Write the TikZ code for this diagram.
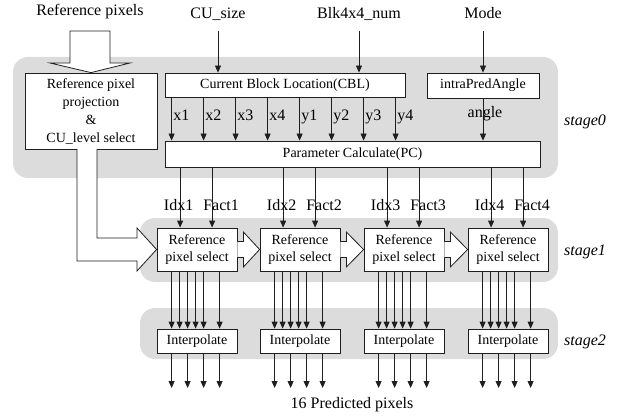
\documentclass[tikz,border=0pt]{standalone}
\usepackage{fontspec}
\setmainfont{Liberation Serif}
\usetikzlibrary{arrows.meta,calc}
\definecolor{stagegray}{RGB}{220,220,220}
\definecolor{ln}{RGB}{30,30,30}
\begin{document}
\begin{tikzpicture}[x=1pt,y=-1pt,
  box/.style={draw=ln, fill=white, line width=0.8pt, inner sep=0pt, align=center, font=\fontsize{14}{17.5}\selectfont},
  stagebg/.style={fill=stagegray, rounded corners=15pt},
  arr/.style={draw=ln, line width=0.8pt, -{Triangle[length=7pt,width=6pt]}},
  lab/.style={font=\fontsize{16}{19}\selectfont, inner sep=0.5pt, anchor=base},
  stlab/.style={font=\fontsize{16}{19}\selectfont\itshape, inner sep=0pt, anchor=base west},
  hollow/.style={draw=ln, fill=white, line width=0.8pt, line join=miter}
]
\useasboundingbox (0,0) rectangle (629,417);
% stage backgrounds
\fill[stagebg] (13,57) rectangle (558,178);
\fill[stagebg] (140,218) rectangle (558,282);
\fill[stagebg] (140,308) rectangle (558,359);
\node[stlab] (st0) at (564,125) {stage0};
\node[stlab] (st1) at (564,255) {stage1};
\node[stlab] (st2) at (564,345) {stage2};

% top labels
\node[lab] (refpix) at (90,16) {Reference pixels};
\node[lab] (cusize) at (218,19) {CU\_size};
\node[lab] (blk) at (359,19) {Blk4x4\_num};
\node[lab] (mode) at (483,19) {Mode};
\coordinate (cuS) at (218,31);
\coordinate (blkS) at (359,31);
\coordinate (modeS) at (483,31);

% stage0 boxes
\node[box, minimum width=132pt, minimum height=76pt, font=\fontsize{14}{18}\selectfont] (RP) at (91,111) {Reference pixel\\projection\\\&\\CU\_level select};
\node[box, minimum width=240pt, minimum height=24pt] (CBL) at (285,85) {Current Block Location(CBL)};
\node[box, minimum width=112pt, minimum height=25pt] (IPA) at (483,85.5) {intraPredAngle};
\node[box, minimum width=375pt, minimum height=26pt] (PC) at (352.5,154) {Parameter Calculate(PC)};

\draw[arr] (cuS) -- (CBL.north -| cuS);
\draw[arr] (blkS) -- (CBL.north -| blkS);
\draw[arr] (modeS) -- (IPA.north);

% top hollow arrow
\draw[hollow] (70,31) -- (70,63) -- (50,63) -- (RP.north) -- (130,63) -- (110,63) -- (110,31) -- cycle;

% CBL -> PC
\foreach \lab [count=\i from 0] in {x1,x2,x3,x4,y1,y2,y3,y4}{
  \path ([xshift={(7+32*\i)*1pt}]CBL.south west) coordinate (t);
  \draw[arr] (t) -- (t |- PC.north);
  \node[lab, anchor=base west] (l\lab) at ([xshift=1pt]t |- 0,121) {\lab};
}
% angle
\draw[arr] (IPA.south) -- (IPA.south |- PC.north);
\node[lab] (anglelab) at (485,118) {angle};

% stage1 / stage2 boxes
\foreach \i/\x in {1/197,2/300,3/404,4/508}{
  \node[box, minimum width=80pt, minimum height=43pt] (S\i) at (\x,249.5) {Reference\\pixel select};
  \node[box, minimum width=80pt, minimum height=24pt] (I\i) at (\x,341) {Interpolate};
}
\coordinate (outline) at (0,388);
\foreach \i in {1,2,3,4}{
  \path ([xshift=23.5pt]S\i.north west) coordinate (ti);
  \path ([xshift=55.5pt]S\i.north west) coordinate (tf);
  \draw[arr] (ti |- PC.south) -- (ti);
  \draw[arr] (tf |- PC.south) -- (tf);
  \node[lab] (idx\i) at ([xshift=-1.5pt]ti |- 0,210) {Idx\i};
  \node[lab] (fact\i) at ([xshift=9pt]tf |- 0,210) {Fact\i};
  \foreach \o in {15,23,31,39,47,63}{
    \path ([xshift=\o pt]S\i.south west) coordinate (t);
    \draw[arr] (t) -- (t |- I\i.north);
  }
  \foreach \o in {15,31,47,63}{
    \path ([xshift=\o pt]I\i.south west) coordinate (t);
    \draw[arr] (t) -- (t |- outline);
  }
}
% hollow arrows between select boxes
\foreach \i/\j in {1/2,2/3,3/4}{
  \draw[hollow] ($(S\i.east)+(0,-8)$) -- ++(6,0) -- ++(0,-9.5) -- (S\j.west)
     -- ($(S\i.east)+(6,17.5)$) -- ++(0,-9.5) -- ++(-6,0);
}
% L-shaped hollow arrow
\draw[hollow] (77,149) -- (77,261) -- (137,261) -- (137,271) -- (S1.west) -- (137,228) -- (137,238) -- (97,238) -- (97,149);

\node[lab] (pred) at (352,408) {16 Predicted pixels};
\end{tikzpicture}
\end{document}
